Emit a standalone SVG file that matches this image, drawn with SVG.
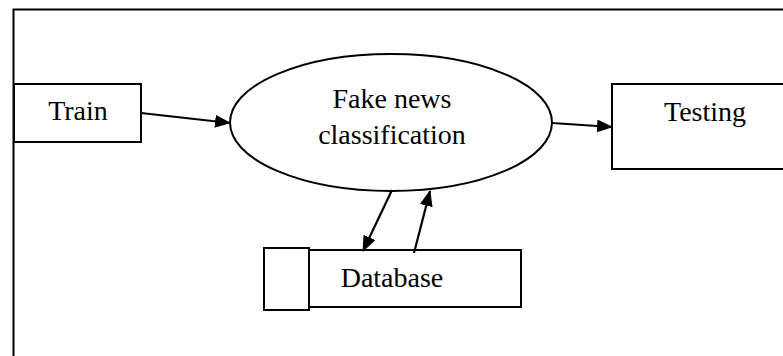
<svg xmlns="http://www.w3.org/2000/svg" width="783" height="356" viewBox="0 0 783 356">
  <defs>
    <marker id="arrow" markerUnits="userSpaceOnUse" markerWidth="16" markerHeight="13" refX="15" refY="6.5" orient="auto">
      <path d="M0,0 L16,6.5 L0,13 Z" fill="#000"/>
    </marker>
    <style>
      .box { fill: #fff; stroke: #000; stroke-width: 2; }
      .frame { fill: none; stroke: #000; stroke-width: 2; }
      .edge { fill: none; stroke: #000; stroke-width: 2.2; marker-end: url(#arrow); }
      .label { font-family: "Liberation Serif", "Times New Roman", serif; font-size: 28px; fill: #000; text-anchor: middle; }
    </style>
  </defs>
  <rect width="783" height="356" fill="#fff"/>

  <!-- page frame: top and left borders -->
  <path class="frame" d="M13.5,356 V9.5 H783"/>

  <g id="train">
    <rect class="box" x="14" y="84" width="127" height="58"/>
    <text class="label" x="78" y="120">Train</text>
  </g>

  <g id="classification">
    <ellipse class="box" cx="391" cy="122.5" rx="161" ry="68.5"/>
    <text class="label" x="392" y="108">Fake news</text>
    <text class="label" x="392" y="144">classification</text>
  </g>

  <g id="testing">
    <rect class="box" x="612" y="84" width="180" height="85"/>
    <text class="label" x="705" y="121">Testing</text>
  </g>

  <g id="database">
    <rect class="box" x="309" y="250" width="212" height="57"/>
    <rect class="box" x="264" y="248" width="45" height="62"/>
    <text class="label" x="392" y="287">Database</text>
  </g>

  <g id="connectors">
    <line class="edge" x1="141" y1="113" x2="230" y2="123"/>
    <line class="edge" x1="552" y1="123" x2="612" y2="127"/>
    <line class="edge" x1="392" y1="190" x2="363" y2="251"/>
    <line class="edge" x1="414" y1="253" x2="430" y2="191"/>
  </g>
</svg>
